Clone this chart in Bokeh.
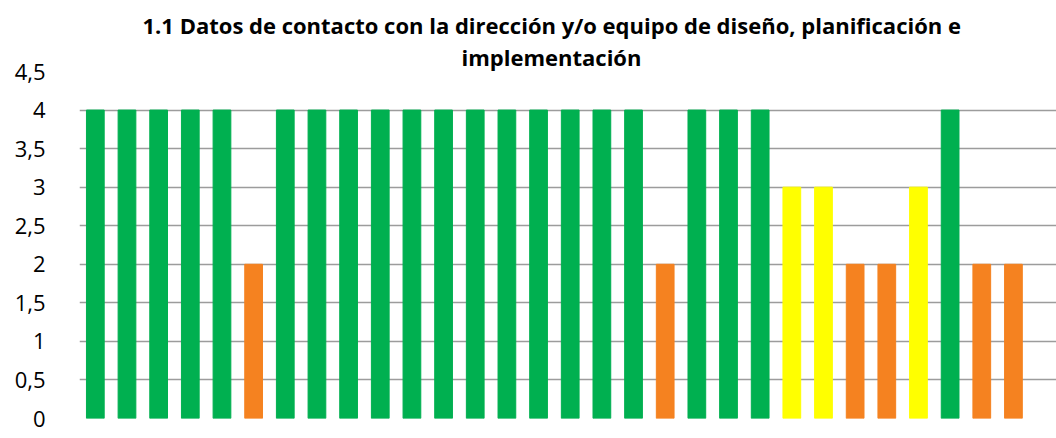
from bokeh.plotting import figure
from bokeh.models import Range1d, Title, FixedTicker, ColumnDataSource
from bokeh.embed import file_html
from bokeh.resources import INLINE

title_lines = ["1.1 Datos de contacto con la dirección y/o equipo de diseño, planificación e",
               "implementación"]
categories = list(range(1, 31))
values = [4, 4, 4, 4, 4, 2, 4, 4, 4, 4, 4, 4, 4, 4, 4, 4, 4, 4, 2, 4, 4, 4, 3, 3, 2, 2, 3, 4, 2, 2]
level_colors = {4: "#00B050", 3: "#FFFF00", 2: "#F58220"}
colors = [level_colors[v] for v in values]
y_ticks = [0, 0.5, 1, 1.5, 2, 2.5, 3, 3.5, 4, 4.5]
y_tick_labels = ["0", "0,5", "1", "1,5", "2", "2,5", "3", "3,5", "4", "4,5"]

src = ColumnDataSource(dict(x=categories, top=values, color=colors))

p = figure(width=1056, height=438, output_backend="svg", toolbar_location=None,
           x_range=Range1d(0.5, 31.36), y_range=Range1d(0, 4.5),
           min_border_left=79, min_border_right=0, min_border_top=71, min_border_bottom=20)
p.outline_line_color = None
p.background_fill_color = "white"
p.border_fill_color = "white"

p.vbar(x="x", top="top", width=0.56, color="color", source=src)

p.xaxis.visible = False
p.xgrid.grid_line_color = None
p.ygrid.grid_line_color = "#9C9C9C"
p.ygrid.grid_line_width = 1.5
p.yaxis.ticker = FixedTicker(ticks=y_ticks)
p.yaxis.major_label_overrides = {t: l for t, l in zip(y_ticks, y_tick_labels)}
p.yaxis.axis_line_color = None
p.yaxis.major_tick_line_color = None
p.yaxis.minor_tick_line_color = None
p.yaxis.major_label_standoff = 28
p.yaxis.major_label_text_font = "Open Sans"
p.yaxis.major_label_text_font_size = "22px"
p.yaxis.major_label_text_color = "#000000"

# line 2 (closest to the frame) first, then line 1
for line, off in [(title_lines[1], 382), (title_lines[0], 63)]:
    p.add_layout(Title(text=line, align="left", offset=off, text_font="Open Sans",
                       text_font_style="bold", text_font_size="22px",
                       text_line_height=1.0,
                       text_color="#000000", standoff=0), "above")

open("out.html", "w").write(file_html(p, INLINE))
